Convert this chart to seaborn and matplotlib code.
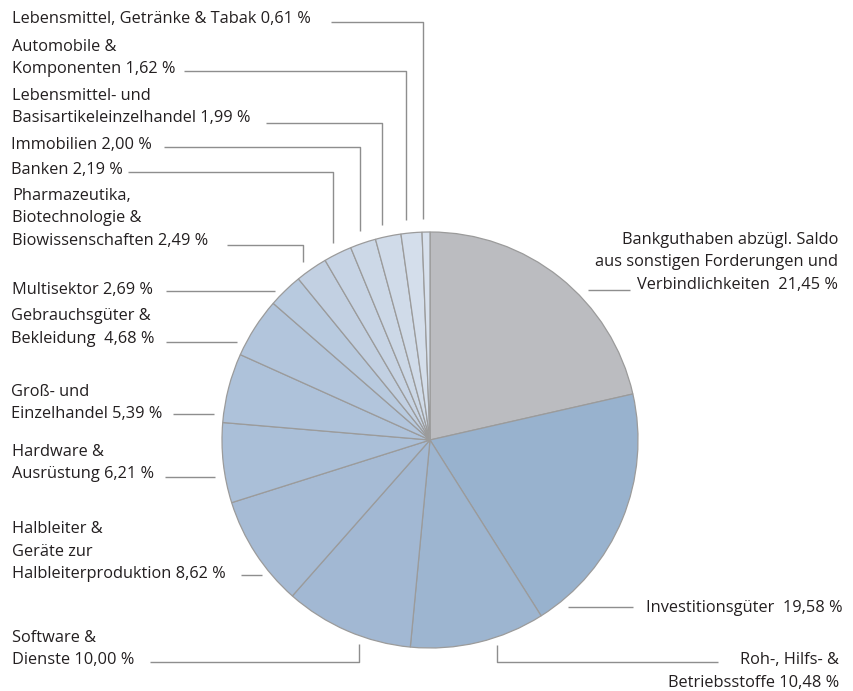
import matplotlib.pyplot as plt
import numpy as np
import seaborn as sns


# Sector weights, clockwise from 12 o'clock
sectors = [
    "Bankguthaben abzügl. Saldo\naus sonstigen Forderungen und\nVerbindlichkeiten  21,45 %",
    "Investitionsgüter  19,58 %",
    "Roh-, Hilfs- &\nBetriebsstoffe 10,48 %",
    "Software &\nDienste 10,00 %",
    "Halbleiter &\nGeräte zur\nHalbleiterproduktion 8,62 %",
    "Hardware &\nAusrüstung 6,21 %",
    "Groß- und\nEinzelhandel 5,39 %",
    "Gebrauchsgüter &\nBekleidung  4,68 %",
    "Multisektor 2,69 %",
    "Pharmazeutika,\nBiotechnologie &\nBiowissenschaften 2,49 %",
    "Banken 2,19 %",
    "Immobilien 2,00 %",
    "Lebensmittel- und\nBasisartikeleinzelhandel 1,99 %",
    "Automobile &\nKomponenten 1,62 %",
    "Lebensmittel, Getränke & Tabak 0,61 %",
]
weights = [21.45, 19.58, 10.48, 10.00, 8.62, 6.21, 5.39, 4.68,
           2.69, 2.49, 2.19, 2.00, 1.99, 1.62, 0.61]
colors = ["#BBBCC0", "#98B2CE", "#9DB5D0", "#A2B8D3", "#A6BBD5",
          "#AABFD8", "#AEC2DA", "#B2C5DC", "#B8CADF", "#C2D0E2",
          "#C7D4E5", "#CCD8E7", "#D0DBE9", "#D4DEEB", "#D8E1ED"]

# label layout in pixel units (top-left origin):
# text x, baseline of last line, alignment, leader kind, leader y, leader far x, elbow x
layout = [
    (838, 289, "right", "right", 290, 630, None),
    (843, 612, "right", "right", 607, 633, None),
    (839, 687, "right", "up", 662, 718, 497),
    (12, 664, "left", "up", 662, 150, 359),
    (12, 578, "left", "left", 575, 241, None),
    (12, 478, "left", "left", 477, 165, None),
    (11, 418, "left", "left", 414, 173, None),
    (11, 343, "left", "left", 342, 166, None),
    (12, 294, "left", "left", 291, 166, None),
    (12, 245, "left", "down", 245, 227, 303),
    (11, 174, "left", "down", 172, 128, 333),
    (11, 149, "left", "down", 147, 164, 360),
    (12, 122, "left", "down", 123, 266, 382),
    (12, 73, "left", "down", 71, 184, 406),
    (12, 23, "left", "down", 22, 331, 423),
]

W, H = 854, 691
CX, CY, R = 430, 440, 208
LINE_STEP = 22.5
TEXT_COLOR = "#231F20"
LEADER_COLOR = "#8E8E8E"

sns.set_theme(style="white")
plt.rcParams["font.family"] = ["Open Sans", "DejaVu Sans"]


def flip(y):
    """Convert a top-origin pixel y to the axes' bottom-origin y."""
    return H - y


def circle_x(y, side):
    dy = y - CY
    return CX + side * np.sqrt(max(R ** 2 - dy ** 2, 0))


def circle_y_bottom(x):
    dx = x - CX
    return CY + np.sqrt(max(R ** 2 - dx ** 2, 0))


def circle_y_top(x):
    dx = x - CX
    return CY - np.sqrt(max(R ** 2 - dx ** 2, 0))


fig = plt.figure(figsize=(W / 100, H / 100), dpi=100)
ax = fig.add_axes([0, 0, 1, 1])

ax.pie(
    weights,
    colors=colors,
    startangle=90,
    counterclock=False,
    center=(CX, flip(CY)),
    radius=R,
    wedgeprops=dict(edgecolor="#9B9B9B", linewidth=0.9),
)

for label, (tx, base, ha, kind, ly, far_x, elbow_x) in zip(sectors, layout):
    lines = label.split("\n")
    for i, line in enumerate(lines):
        y = base - (len(lines) - 1 - i) * LINE_STEP
        ax.text(tx, flip(y), line, ha=ha, va="baseline",
                fontsize=11.8, color=TEXT_COLOR)

    if kind == "left":
        xs = [far_x, circle_x(ly, -1) - 10]
        ys = [ly, ly]
    elif kind == "right":
        xs = [circle_x(ly, 1) + 14, far_x]
        ys = [ly, ly]
    elif kind == "down":
        xs = [far_x, elbow_x, elbow_x]
        ys = [ly, ly, circle_y_top(elbow_x) - 13]
    else:  # leader comes up from below the pie
        xs = [far_x, elbow_x, elbow_x]
        ys = [ly, ly, circle_y_bottom(elbow_x) + 8]
    ax.plot(xs, [flip(v) for v in ys], color=LEADER_COLOR,
            linewidth=1.0, solid_capstyle="butt")

ax.set_xlim(0, W)
ax.set_ylim(0, H)
ax.set_aspect("equal")
ax.axis("off")

fig.savefig("out.png", dpi=100)
plt.close(fig)
